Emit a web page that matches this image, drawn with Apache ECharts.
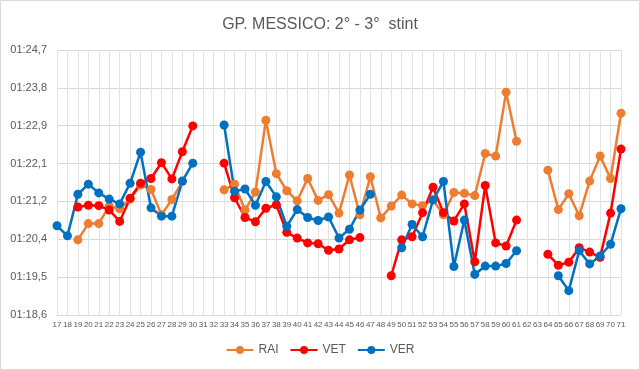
<!DOCTYPE html>
<html>
<head>
<meta charset="utf-8">
<script src="https://cdn.jsdelivr.net/npm/echarts@6/dist/echarts.min.js"></script>
<style>
html,body{margin:0;padding:0;background:#fff;}
#c{width:640px;height:370px;}
</style>
</head>
<body>
<div id="c"></div>
<script>
// Laps (categories)
const laps = [];
for (let l = 17; l <= 71; l++) laps.push(String(l));

// Lap times in seconds (01:xx,x -> 60 + xx,x); null = no lap
const rai = [null,null,80.34,80.71,80.71,81.11,81.05,81.27,81.59,81.49,80.91,81.26,81.67,null,null,null,
  81.48,81.61,81.02,81.43,83.07,81.85,81.46,81.23,81.74,81.24,81.37,80.95,81.82,80.91,81.78,80.84,81.11,
  81.36,81.16,81.12,81.25,80.91,81.42,81.40,81.35,82.31,82.25,83.71,82.59,null,null,
  81.93,81.03,81.39,80.89,81.68,82.25,81.74,83.23];
const vet = [null,null,81.09,81.13,81.12,81.02,80.76,81.29,81.63,81.74,82.10,81.73,82.35,82.94,null,null,
  82.09,81.30,80.85,80.75,81.06,81.14,80.51,80.38,80.27,80.25,80.10,80.13,80.34,80.39,null,null,79.52,
  80.34,80.41,80.96,81.54,80.96,80.77,81.16,79.84,81.58,80.27,80.20,80.79,null,null,
  80.01,79.76,79.83,80.16,80.06,79.94,80.95,82.41];
const ver = [80.66,80.43,81.38,81.61,81.41,81.27,81.16,81.63,82.34,81.07,80.88,80.88,81.68,82.09,null,null,
  82.96,81.45,81.50,81.13,81.67,81.32,80.65,81.03,80.85,80.78,80.86,80.38,80.58,81.02,81.38,null,null,
  80.16,80.69,80.41,81.25,81.67,79.73,80.79,79.55,79.74,79.74,79.80,80.09,null,null,
  null,79.52,79.18,80.09,79.79,79.97,80.24,81.05];

const seriesNames = ['RAI','VET','VER'];
const seriesColors = ['#ED7D31','#FF0000','#0070C0'];
const seriesData = [rai, vet, ver];

// y-axis ticks (Excel time unit 1e-5 day = 0.864 s)
const yMin = 78.624, yMax = 84.672, yStep = 0.864;

const chart = echarts.init(document.getElementById('c'));
chart.setOption({
  animation: false,
  backgroundColor: '#fff',
  graphic: [{
    type: 'rect', shape: {x: 0.5, y: 0.5, width: 639, height: 369},
    style: {fill: 'none', stroke: '#D9D9D9', lineWidth: 1}, silent: true
  }],
  title: {
    text: 'GP. MESSICO: 2° - 3°  stint',
    left: 'center', top: 12,
    textStyle: {fontFamily: 'Liberation Sans', fontSize: 16, fontWeight: 'normal', color: '#595959'}
  },
  legend: {
    bottom: 9, left: 'center',
    itemWidth: 27, itemHeight: 10, itemGap: 11,
    textStyle: {fontFamily: 'Liberation Sans', fontSize: 12, color: '#595959'},
    data: seriesNames
  },
  grid: {left: 57, right: 19, top: 50, bottom: 55, containLabel: false},
  xAxis: {
    type: 'category', data: laps, boundaryGap: false,
    axisLine: {lineStyle: {color: '#D9D9D9'}},
    axisTick: {show: false},
    axisLabel: {interval: 0, fontFamily: 'Liberation Sans', fontSize: 8, color: '#595959', margin: 6},
    splitLine: {show: true, interval: 0, lineStyle: {color: '#E3E3E3'}}
  },
  yAxis: {
    type: 'value', min: yMin, max: yMax, interval: yStep,
    axisLine: {show: false}, axisTick: {show: false},
    axisLabel: {
      fontFamily: 'Liberation Sans', fontSize: 11, color: '#595959', margin: 10,
      formatter: v => '01:' + (v - 60).toFixed(1).replace('.', ',')
    },
    splitLine: {lineStyle: {color: '#D9D9D9'}}
  },
  series: seriesNames.map((n, i) => ({
    name: n, type: 'line', data: seriesData[i],
    connectNulls: false, showSymbol: true, showAllSymbol: true,
    symbol: 'circle', symbolSize: 9,
    lineStyle: {width: 2.5, color: seriesColors[i]},
    itemStyle: {color: seriesColors[i]}
  }))
});
</script>
</body>
</html>
